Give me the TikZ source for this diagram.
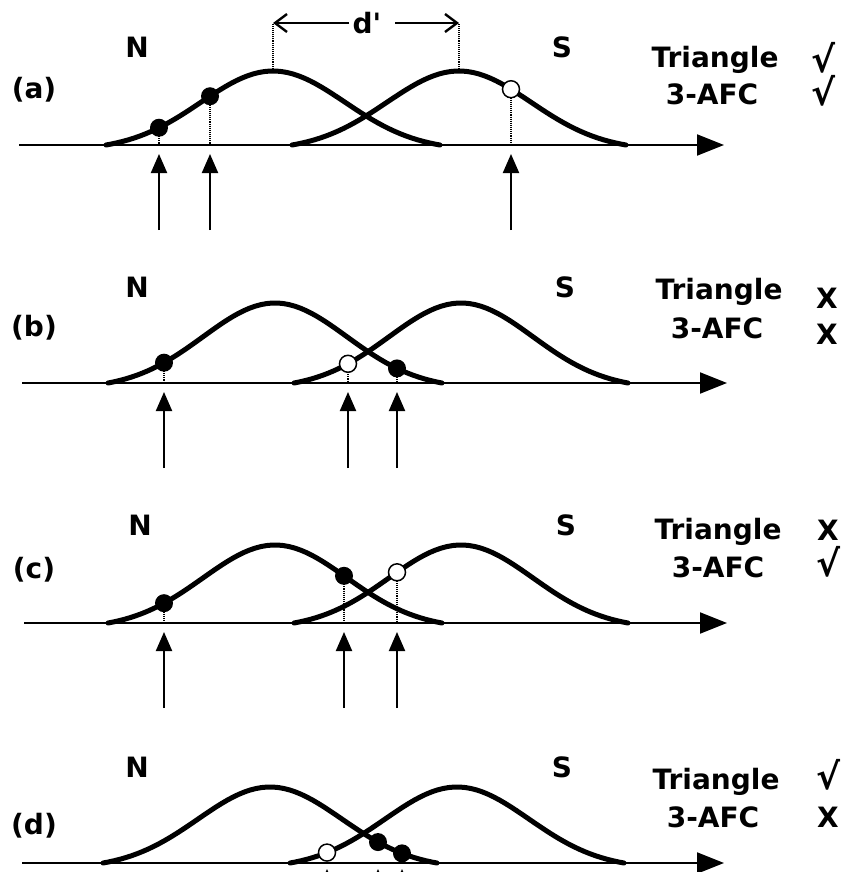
\documentclass[tikz,border=0pt]{standalone}
\usepackage{fontspec}
\setmainfont{DejaVu Sans}
\usetikzlibrary{arrows.meta}

\begin{document}
\begin{tikzpicture}[x=1pt,y=-1pt,
  declare function={bell(\u,\c,\h)=\h*(exp(-((\u-\c)/72)^2/2)-0.068)/0.932;},
  curve/.style={line width=5pt, line cap=round, line join=round},
  axis/.style={line width=2pt, -{Triangle[length=27pt,width=21pt]}},
  hit/.style={line width=2pt, -{Triangle[length=19pt,width=16pt]}},
  drop/.style={line width=1.1pt, densely dotted},
  dim/.style={line width=2.4pt, -{Straight Barb[length=12pt,width=18pt,line width=2.4pt]}},
  fdot/.style={circle, fill=black, inner sep=0pt, minimum size=18pt},
  odot/.style={circle, draw=black, fill=white, line width=1.5pt, inner sep=0pt, minimum size=17pt},
  lab/.style={font=\bfseries\fontsize{28}{30}\selectfont, inner sep=0pt},
  tickmk/.style={font=\bfseries\fontsize{36}{38}\selectfont, inner sep=0pt}]
\useasboundingbox (0,0) rectangle (844,872);
\clip (0,0) rectangle (844,872);

% ---- (a)
\coordinate (aL) at (19,145);
\coordinate (aR) at (724,145);
\coordinate (aLow) at (0,230);
\coordinate (aTip) at (0,154);
\coordinate (a1) at (159,{145-bell(159,273,74)});
\coordinate (a2) at (210,{145-bell(210,273,74)});
\coordinate (a3) at (511,{145-bell(511,459,74)});
\coordinate (pkN) at (273,71);
\coordinate (pkS) at (459,71);
\coordinate (dN) at (273,23);
\coordinate (dS) at (459,23);
\draw[axis] (aL) -- (aR);
\draw[drop] (a1) -- (a1 |- aL);
\draw[drop] (a2) -- (a2 |- aL);
\draw[drop] (a3) -- (a3 |- aL);
\draw[drop] (pkN) -- (dN);
\draw[drop] (pkS) -- (dS);
\draw[curve] plot[domain=106:440,samples=60] (\x,{145-bell(\x,273,74)});
\draw[curve] plot[domain=292:626,samples=60] (\x,{145-bell(\x,459,74)});
\node[fdot] (a1dot) at (a1) {};
\node[fdot] (a2dot) at (a2) {};
\node[odot] (a3dot) at (a3) {};
\draw[hit] (a1 |- aLow) -- (a1 |- aTip);
\draw[hit] (a2 |- aLow) -- (a2 |- aTip);
\draw[hit] (a3 |- aLow) -- (a3 |- aTip);
\node[lab] (dprime) at (367,23) {d\textquotesingle};
\draw[dim] ([xshift=-18pt]dprime.center) -- (dN);
\draw[dim] ([xshift=28pt]dprime.center) -- (dS);
\node[lab] (aN) at (137,47) {N};
\node[lab] (aS) at (562,47) {S};
\node[lab] (alab) at (34,90) {(a)};
\node[lab] (atri) at (715,60) {Triangle};
\node[lab] (aafc) at (712,94) {3-AFC};
\node[tickmk] (atriv) at (823,58) {√};
\node[tickmk] (aafcv) at (823,91) {√};

% ---- (b)
\coordinate (bL) at (22,383);
\coordinate (bR) at (727,383);
\coordinate (bLow) at (0,468);
\coordinate (bTip) at (0,392);
\coordinate (b1) at (164,{383-bell(164,275,80)});
\coordinate (b2) at (348,{383-bell(348,461,80)});
\coordinate (b3) at (397,{383-bell(397,275,80)});
\draw[axis] (bL) -- (bR);
\draw[drop] (b1) -- (b1 |- bL);
\draw[drop] (b2) -- (b2 |- bL);
\draw[drop] (b3) -- (b3 |- bL);
\draw[curve] plot[domain=108:442,samples=60] (\x,{383-bell(\x,275,80)});
\draw[curve] plot[domain=294:628,samples=60] (\x,{383-bell(\x,461,80)});
\node[fdot] (b1dot) at (b1) {};
\node[odot] (b2dot) at (b2) {};
\node[fdot] (b3dot) at (b3) {};
\draw[hit] (b1 |- bLow) -- (b1 |- bTip);
\draw[hit] (b2 |- bLow) -- (b2 |- bTip);
\draw[hit] (b3 |- bLow) -- (b3 |- bTip);
\node[lab] (bN) at (137,287) {N};
\node[lab] (bS) at (565,287) {S};
\node[lab] (blab) at (34,328) {(b)};
\node[lab] (btri) at (719,292) {Triangle};
\node[lab] (bafc) at (717,328) {3-AFC};
\node[lab] (btrix) at (827,298) {X};
\node[lab] (bafcx) at (827,334) {X};

% ---- (c)
\coordinate (cL) at (24,623);
\coordinate (cR) at (727,623);
\coordinate (cLow) at (0,708);
\coordinate (cTip) at (0,632);
\coordinate (c1) at (164,{623-bell(164,275,78)});
\coordinate (c2) at (344,{623-bell(344,275,78)});
\coordinate (c3) at (397,{623-bell(397,461,78)});
\draw[axis] (cL) -- (cR);
\draw[drop] (c1) -- (c1 |- cL);
\draw[drop] (c2) -- (c2 |- cL);
\draw[drop] (c3) -- (c3 |- cL);
\draw[curve] plot[domain=108:442,samples=60] (\x,{623-bell(\x,275,78)});
\draw[curve] plot[domain=294:628,samples=60] (\x,{623-bell(\x,461,78)});
\node[fdot] (c1dot) at (c1) {};
\node[fdot] (c2dot) at (c2) {};
\node[odot] (c3dot) at (c3) {};
\draw[hit] (c1 |- cLow) -- (c1 |- cTip);
\draw[hit] (c2 |- cLow) -- (c2 |- cTip);
\draw[hit] (c3 |- cLow) -- (c3 |- cTip);
\node[lab] (cN) at (140,525) {N};
\node[lab] (cS) at (566,525) {S};
\node[lab] (clab) at (34,570) {(c)};
\node[lab] (ctri) at (718,532) {Triangle};
\node[lab] (cafc) at (718,567) {3-AFC};
\node[lab] (ctrix) at (828,530) {X};
\node[tickmk] (cafcv) at (828,562) {√};

% ---- (d)
\coordinate (dL) at (22,863);
\coordinate (dR) at (724,863);
\coordinate (dLow) at (0,950);
\coordinate (dTip) at (0,869);
\coordinate (d1) at (327,{863-bell(327,457,76)});
\coordinate (d2) at (378,{863-bell(378,270,76)});
\coordinate (d3) at (402,{863-bell(402,270,76)});
\draw[axis] (dL) -- (dR);
\draw[curve] plot[domain=103:437,samples=60] (\x,{863-bell(\x,270,76)});
\draw[curve] plot[domain=290:624,samples=60] (\x,{863-bell(\x,457,76)});
\node[odot] (d1dot) at (d1) {};
\node[fdot] (d2dot) at (d2) {};
\node[fdot] (d3dot) at (d3) {};
\draw[hit] (d1 |- dLow) -- (d1 |- dTip);
\draw[hit] (d2 |- dLow) -- (d2 |- dTip);
\draw[hit] (d3 |- dLow) -- (d3 |- dTip);
\node[lab] (dN) at (137,767) {N};
\node[lab] (dS) at (562,767) {S};
\node[lab] (dlab) at (34,826) {(d)};
\node[lab] (dtri) at (716,782) {Triangle};
\node[lab] (dafc) at (713,817) {3-AFC};
\node[tickmk] (dtriv) at (828,775) {√};
\node[lab] (dafcx) at (828,817) {X};
\end{tikzpicture}
\end{document}
